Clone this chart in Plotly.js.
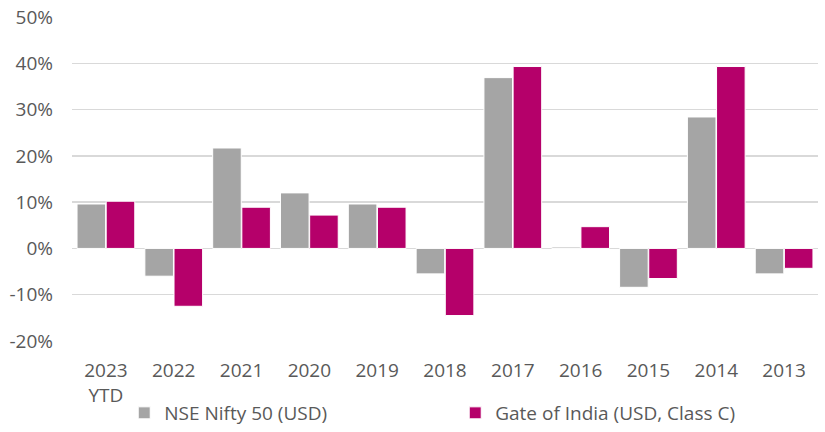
<!DOCTYPE html>
<html>
<head>
<meta charset="utf-8">
<script src="https://cdn.plot.ly/plotly-3.0.1.min.js"></script>
<style>html,body{margin:0;padding:0;background:#fff;}#chart{width:825px;height:432px;}</style>
</head>
<body>
<div id="chart"></div>
<script>
const categories = ["2023<br>YTD", "2022", "2021", "2020", "2019", "2018", "2017", "2016", "2015", "2014", "2013"];
const niftyValues = [9.6, -6.0, 21.7, 12.0, 9.6, -5.5, 36.9, 0.3, -8.4, 28.4, -5.5];
const gateValues = [10.2, -12.5, 8.9, 7.2, 8.9, -14.5, 39.3, 4.7, -6.5, 39.3, -4.3];
const seriesNames = ["NSE Nifty 50 (USD)", "Gate of India (USD, Class C)"];
const yTickValues = [-20, -10, 0, 10, 20, 30, 40, 50];
const yTickLabels = ["-20%", "-10%", "0%", "10%", "20%", "30%", "40%", "50%"];

const font = "Open Sans, Liberation Sans, sans-serif";
const traces = [
  {type: "bar", name: seriesNames[0], x: categories, y: niftyValues,
   marker: {color: "#A5A5A5", line: {color: "#ffffff", width: 1}}},
  {type: "bar", name: seriesNames[1], x: categories, y: gateValues,
   marker: {color: "#B5006A", line: {color: "#ffffff", width: 1}}}
];
const layout = {
  width: 825, height: 432,
  margin: {l: 72, r: 7, t: 17, b: 91},
  paper_bgcolor: "#fff", plot_bgcolor: "#fff",
  barmode: "group", bargap: 0.14, bargroupgap: 0.02,
  font: {family: font, size: 19, color: "#595959"},
  xaxis: {type: "category", showgrid: false, zeroline: false, showline: false, ticks: "",
          ticklabelstandoff: 16, automargin: false,
          tickfont: {family: font, size: 19, color: "#595959"}},
  yaxis: {range: [-20, 50], tickvals: yTickValues, ticktext: yTickLabels,
          showgrid: true, gridcolor: "#D9D9D9", gridwidth: 1.5,
          zeroline: true, zerolinecolor: "#D9D9D9", zerolinewidth: 1.5, showline: false, ticks: "",
          ticklabelstandoff: 18, automargin: false,
          tickfont: {family: font, size: 19, color: "#595959"}},
  showlegend: true,
  legend: {orientation: "h", x: 0.07, xanchor: "left", yref: "container", y: 0.044, yanchor: "middle",
           entrywidth: 286, entrywidthmode: "pixels",
           font: {family: font, size: 19, color: "#595959"}, itemclick: false}
};
Plotly.newPlot("chart", traces, layout, {displayModeBar: false, staticPlot: true});
</script>
</body>
</html>
